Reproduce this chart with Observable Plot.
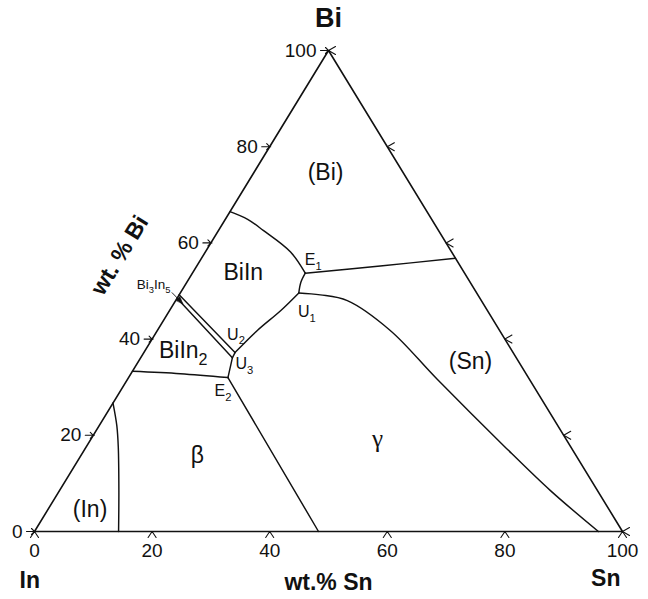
<!DOCTYPE html>
<html>
<head>
<meta charset="utf-8">
<script src="https://cdn.jsdelivr.net/npm/d3@7"></script>
<script src="https://cdn.jsdelivr.net/npm/@observablehq/plot@0.6"></script>
<style>
  html, body { margin: 0; padding: 0; background: #fff; }
  #chart svg { display: block; }
</style>
</head>
<body>
<div id="chart"></div>
<script>
// Bi–In–Sn liquidus projection. Every composition is [wt.% Sn, wt.% Bi];
// wt.% In is the remainder.
const corners = [[0, 0], [100, 0], [0, 100], [0, 0]];
const tickValues = [0, 20, 40, 60, 80, 100];

// Boundaries between the primary crystallisation fields
const biBiInLine = [[0, 66.5], [3.8, 64.9], [7.6, 62.6], [14.5, 58.1], [19.2, 53.7]];
const e1SnLine = [[19.2, 53.7], [31.2, 55.2], [43.2, 56.8]];
const e1U1Line = [[19.2, 53.7], [19.4, 51.8], [20.15, 49.6]];
const u1U2Line = [[20.15, 49.6], [18.9, 45.9], [17.0, 41.8], [15.5, 37.2]];
const gammaSnLine = [[20.15, 49.6], [24.0, 49.2], [29.2, 48.0], [39.6, 41.8], [52.6, 31.7], [70.8, 17.9], [83.5, 8.5], [95.9, 0]];
const bi3In5Upper = [[0, 49.2], [15.5, 37.2]];
const bi3In5Lower = [[0, 48.5], [15.6, 36.1]];
const u2U3Line = [[15.5, 37.2], [15.6, 36.1]];
const u3E2Line = [[15.6, 36.1], [16.9, 32.0]];
const biIn2BetaLine = [[0, 33.3], [8.4, 32.8], [16.9, 32.0]];
const e2BetaGammaLine = [[16.9, 32.0], [48.3, 0]];
const inBetaLine = [[0, 26.7], [3.0, 22.0], [5.5, 17.5], [10.1, 8.5], [14.3, 0]];

// Primary phase fields
const fieldNames = ["(Bi)", "BiIn", "BiIn_2", "β", "γ", "(Sn)", "(In)"];
const fieldSn = [12.2, 8.6, 6.5, 19.8, 48.7, 56.5, 7.15];
const fieldBi = [74.6, 53.8, 37.6, 15.8, 19.3, 35.3, 4.6];

// Invariant points
const pointNames = ["E_1", "U_1", "U_2", "U_3", "E_2"];
const pointSn = [19.2, 20.15, 15.5, 15.6, 16.9];
const pointBi = [53.7, 49.6, 37.2, 36.1, 32.0];

// Bi3In5 compound annotation
const compoundName = ["Bi_3In_5"];
const compoundSn = [-5.4];
const compoundBi = [51.3];
const compoundPointer = [[-1.5, 49.7], [1.5, 47.4]];

// Axis title along the Bi side, placed at a composition outside the triangle
const biTitle = ["wt. % Bi"];
const biTitleAt = [-14.2, 57.4];

// Ternary → Cartesian (triangle projected on the x/y scales)
const tx = d => d[0] + d[1] / 2;
const ty = d => d[1];

const fields = fieldNames.map((name, i) => ({name, c: [fieldSn[i], fieldBi[i]]}));
const points = pointNames.map((name, i) => ({name, c: [pointSn[i], pointBi[i]]}));
const pointLabelOffset = {E_1: [8, -13], U_1: [8, 19], U_2: [1, -18], U_3: [12, 6], E_2: [-5, 13]};

// Tick glyphs drawn around each tick position
const caret = {draw(ctx) { ctx.moveTo(-4, 6); ctx.lineTo(0, 0); ctx.lineTo(4, 6); }};
const leftArrow = {draw(ctx) { ctx.moveTo(-8, 0); ctx.lineTo(1, 0); ctx.moveTo(-3, -3); ctx.lineTo(0, 0); ctx.lineTo(-3, 3); }};
const rightChevron = {draw(ctx) { ctx.moveTo(7, -4); ctx.lineTo(0, 0); ctx.lineTo(7, 4); }};
// small filled wedge for the compound pointer
const wedge = {draw(ctx) { ctx.moveTo(0, 0); ctx.lineTo(-2.6, 7); ctx.lineTo(2.6, 7); ctx.closePath(); }};

const sans = "'Liberation Sans', Arial, Helvetica, sans-serif";
const boundary = (data, curve = "catmull-rom") =>
  Plot.line(data, {x: tx, y: ty, curve, stroke: "#111", strokeWidth: 1.45});

const chart = Plot.plot({
  width: 648,
  height: 599,
  marginLeft: 34,
  marginRight: 26,
  marginTop: 50,
  marginBottom: 68,
  x: {domain: [0, 100], axis: null},
  y: {domain: [0, 100], axis: null},
  style: {fontFamily: sans, background: "#fff", color: "#111"},
  marks: [
    boundary(biBiInLine),
    boundary(e1SnLine),
    boundary(e1U1Line),
    boundary(u1U2Line),
    boundary(gammaSnLine),
    boundary(bi3In5Upper, "linear"),
    boundary(bi3In5Lower, "linear"),
    boundary(u2U3Line, "linear"),
    boundary(u3E2Line, "linear"),
    boundary(biIn2BetaLine),
    boundary(e2BetaGammaLine, "linear"),
    boundary(inBetaLine),
    // triangle frame
    Plot.line(corners, {x: tx, y: ty, stroke: "#111", strokeWidth: 1.6, strokeLinejoin: "miter"}),
    // ticks: Sn along the base, Bi along the left side, Sn (=100−Bi) along the right side
    Plot.vector(tickValues, {x: v => v, y: 0, shape: caret, anchor: "start", fill: "none", stroke: "#111", strokeWidth: 1.1}),
    Plot.vector(tickValues, {x: v => v / 2, y: v => v, shape: leftArrow, anchor: "start", fill: "none", stroke: "#111", strokeWidth: 1.1}),
    Plot.vector(tickValues, {x: v => 100 - v / 2, y: v => v, shape: rightChevron, anchor: "start", fill: "none", stroke: "#111", strokeWidth: 1.1}),
    // tick labels
    Plot.text(tickValues, {x: v => v, y: 0, text: v => String(v), dy: 19, fontSize: 19, fill: "#111"}),
    Plot.text(tickValues, {x: v => v / 2, y: v => v, text: v => String(v), textAnchor: "end", dx: -12, fontSize: 19, fill: "#111"}),
    // Bi3In5 pointer and label
    Plot.link([compoundPointer], {x1: d => tx(d[0]), y1: d => ty(d[0]), x2: d => tx(d[1]), y2: d => ty(d[1]), stroke: "#111", strokeWidth: 0.9}),
    Plot.vector([compoundPointer], {x: d => tx(d[1]), y: d => ty(d[1]), rotate: 137, shape: wedge, anchor: "start", fill: "#111", stroke: "#111", strokeWidth: 0.6}),
    Plot.text(compoundName, {x: (d, i) => compoundSn[i] + compoundBi[i] / 2, y: (d, i) => compoundBi[i], text: d => d, fontSize: 13.5, fill: "#111"}),
    // phase fields
    Plot.text(fields.filter(f => f.name !== "γ"), {x: d => tx(d.c), y: d => ty(d.c), text: "name", fontSize: 23, fill: "#111"}),
    Plot.text(fields.filter(f => f.name === "γ"), {x: d => tx(d.c), y: d => ty(d.c), text: "name", fontSize: 25, fontFamily: "'Liberation Serif', 'Times New Roman', serif", fill: "#111"}),
    // invariant points
    ...points.map(p => Plot.text([p], {
      x: d => tx(d.c), y: d => ty(d.c), text: "name", fontSize: 16, fill: "#111",
      dx: pointLabelOffset[p.name][0], dy: pointLabelOffset[p.name][1]
    })),
    // component and axis titles
    Plot.text(["Bi"], {frameAnchor: "top", lineAnchor: "middle", text: d => d, dy: -32, fontSize: 27, fontWeight: "bold", fill: "#111"}),
    Plot.text(["In"], {frameAnchor: "bottom-left", lineAnchor: "middle", text: d => d, textAnchor: "start", dx: -15, dy: 49, fontSize: 23, fontWeight: "bold", fill: "#111"}),
    Plot.text(["Sn"], {frameAnchor: "bottom-right", lineAnchor: "middle", text: d => d, textAnchor: "end", dx: -2, dy: 47, fontSize: 23, fontWeight: "bold", fill: "#111"}),
    Plot.text(["wt.% Sn"], {frameAnchor: "bottom", lineAnchor: "middle", text: d => d, dy: 51, fontSize: 23, fontWeight: "bold", fill: "#111"}),
    Plot.text(biTitle, {x: () => tx(biTitleAt), y: () => ty(biTitleAt), text: d => d, rotate: -58.6, fontSize: 23, fontWeight: "bold", fill: "#111"})
  ]
});

document.getElementById("chart").append(chart);

// Turn "_n" markers into real subscripts.
for (const t of chart.querySelectorAll("text")) {
  const s = t.textContent;
  if (!s.includes("_")) continue;
  const fs = parseFloat(getComputedStyle(t).fontSize) || 16;
  const parts = s.split(/_(\d)/);
  t.textContent = "";
  let shifted = false;
  parts.forEach((part, i) => {
    if (!part) return;
    const span = document.createElementNS("http://www.w3.org/2000/svg", "tspan");
    span.textContent = part;
    if (i % 2 === 1) {
      span.setAttribute("font-size", (fs * 0.7).toFixed(1));
      span.setAttribute("dy", (fs * 0.3).toFixed(1));
      shifted = true;
    } else if (shifted) {
      span.setAttribute("dy", (-fs * 0.3).toFixed(1));
      shifted = false;
    }
    t.append(span);
  });
}
</script>
</body>
</html>
